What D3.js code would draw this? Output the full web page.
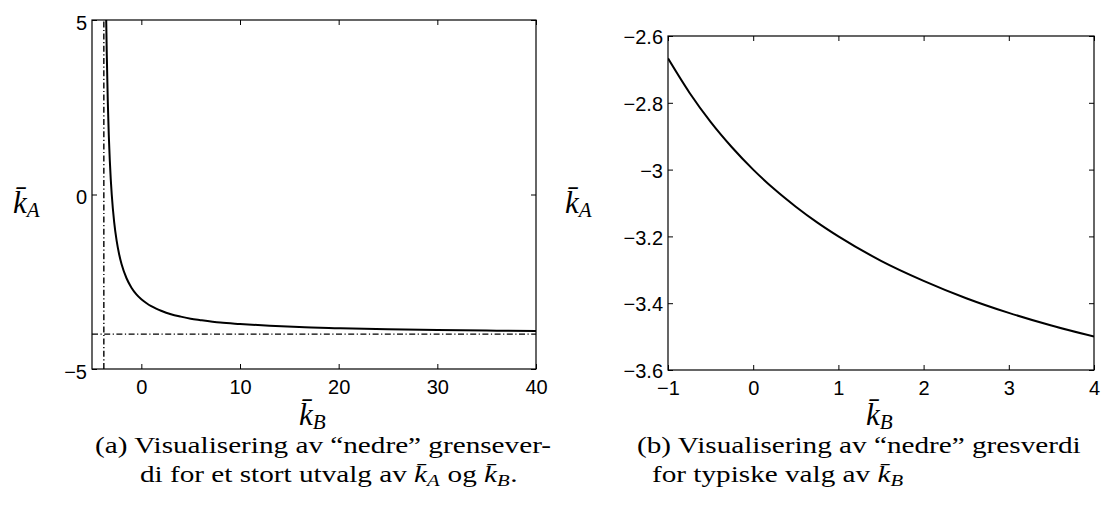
<!DOCTYPE html>
<html>
<head>
<meta charset="utf-8">
<script src="https://cdn.jsdelivr.net/npm/d3@7"></script>
<style>
  body { margin: 0; background: #fff; }
  svg { display: block; }
  .cap, .lbl { font-family: 'Liberation Serif', 'Times New Roman', serif; }
  .tk { font-family: 'Liberation Sans', Arial, Helvetica, sans-serif; }
</style>
</head>
<body>
<div id="chart"></div>
<script>
// panel (a): lower bound curve, wide range
const kbWide = [-3.56, -3.5, -3.4, -3.3, -3.2, -3.1, -3.0, -2.75, -2.5, -2.25, -2.0, -1.5, -1.0, -0.5, 0, 0.5, 1, 1.5, 2, 3, 4, 5, 6, 8, 10, 13, 16, 20, 25, 30, 35, 40];
const kaWide = [5.0, 4.0, 2.67, 1.71, 1.0, 0.44, 0.0, -0.8, -1.33, -1.71, -2.0, -2.4, -2.67, -2.86, -3.0, -3.11, -3.2, -3.27, -3.33, -3.43, -3.5, -3.56, -3.6, -3.67, -3.71, -3.76, -3.8, -3.83, -3.86, -3.88, -3.9, -3.91];
// dash-dot guide lines in panel (a)
const guideB = -3.8;
const guideA = -4;

// panel (b): typical kB values
const kbNarrow = [-1, -0.75, -0.5, -0.25, 0, 0.25, 0.5, 0.75, 1, 1.5, 2, 2.5, 3, 3.5, 4];
const kaNarrow = [-2.667, -2.769, -2.857, -2.933, -3.0, -3.059, -3.111, -3.158, -3.2, -3.273, -3.333, -3.385, -3.429, -3.467, -3.5];

const aXTicks = [0, 10, 20, 30, 40];
const aYTicks = [5, 0, -5];
const bXTicks = [-1, 0, 1, 2, 3, 4];
const bYTicks = [-2.6, -2.8, -3, -3.2, -3.4, -3.6];
const bYLabels = ['-2.6', '-2.8', '-3', '-3.2', '-3.4', '-3.6'];

const W = 1107, H = 510;
const svg = d3.select('#chart').append('svg').attr('width', W).attr('height', H);

const minus = s => String(s).replace('-', '\u2212');

// k with a bar and a subscript, drawn as real text
function kLabel(g, x, y, sub, size) {
  const t = g.append('text').attr('class', 'lbl').attr('x', x).attr('y', y)
    .attr('font-size', size).attr('font-style', 'italic');
  t.append('tspan').text('k\u0304');
  t.append('tspan').attr('font-size', size * 0.68).attr('dy', size * 0.12).text(sub);
  return t;
}

function panel(opt) {
  const { x0, x1, y0, y1 } = opt;
  const x = d3.scaleLinear().domain(opt.xDomain).range([x0, x1]);
  const y = d3.scaleLinear().domain(opt.yDomain).range([y1, y0]);
  const g = svg.append('g');
  const id = 'clip' + opt.name;
  g.append('clipPath').attr('id', id).append('rect')
    .attr('x', x0).attr('y', y0).attr('width', x1 - x0).attr('height', y1 - y0);

  const tl = 5;
  const xb = g.append('g').attr('transform', `translate(0,${y1})`)
    .call(d3.axisBottom(x).tickValues(opt.xTicks).tickSize(-tl).tickPadding(11).tickFormat(d => minus(d)));
  const xt = g.append('g').attr('transform', `translate(0,${y0})`)
    .call(d3.axisTop(x).tickValues(opt.xTicks).tickSize(-tl));
  const yl = g.append('g').attr('transform', `translate(${x0},0)`)
    .call(d3.axisLeft(y).tickValues(opt.yTicks).tickSize(-tl).tickPadding(5).tickFormat(opt.yFmt));
  const yr = g.append('g').attr('transform', `translate(${x1},0)`)
    .call(d3.axisRight(y).tickValues(opt.yTicks).tickSize(-tl));
  // mirrored ticks only, no labels
  xt.selectAll('.tick text').remove();
  yr.selectAll('.tick text').remove();
  g.selectAll('.domain').remove();
  g.selectAll('.tick line').attr('stroke', '#000').attr('stroke-width', 1);
  g.selectAll('.tick text').attr('class', 'tk').attr('font-size', 20).attr('fill', '#000');
  [xb, xt, yl, yr].forEach(a => a.attr('font-family', null).attr('font-size', null));
  xb.selectAll('text').attr('dy', '0.72em');
  yl.selectAll('text').attr('dy', opt.yDy);

  const plot = g.append('g').attr('clip-path', `url(#${id})`);
  if (opt.guides) {
    plot.append('line')
      .attr('x1', x(guideB)).attr('x2', x(guideB)).attr('y1', y(opt.yDomain[0])).attr('y2', y(opt.yDomain[1]))
      .attr('stroke', '#000').attr('stroke-width', 1.4).attr('stroke-dasharray', '6,2.5,1.2,2.5');
    plot.append('line')
      .attr('x1', x(opt.xDomain[0])).attr('x2', x(opt.xDomain[1])).attr('y1', y(guideA)).attr('y2', y(guideA))
      .attr('stroke', '#000').attr('stroke-width', 1.4).attr('stroke-dasharray', '6,2.5,1.2,2.5');
  }
  const pts = opt.xs.map((v, i) => [v, opt.ys[i]]);
  plot.append('path').datum(pts)
    .attr('d', d3.line().x(d => x(d[0])).y(d => y(d[1])).curve(d3.curveMonotoneX))
    .attr('fill', 'none').attr('stroke', '#000').attr('stroke-width', 2);

  g.append('rect').attr('x', x0).attr('y', y0).attr('width', x1 - x0).attr('height', y1 - y0)
    .attr('fill', 'none').attr('stroke', '#000').attr('stroke-width', 1.2);

  kLabel(g, opt.yLabX, 213, 'A', 31);
  kLabel(g, (x0 + x1) / 2 - 15, 425, 'B', 31);
}

panel({
  name: 'a', x0: 92, x1: 536, y0: 20, y1: 369,
  xDomain: [-5, 40], yDomain: [-5, 5], xTicks: aXTicks, yTicks: aYTicks,
  yFmt: d => minus(d), yDy: '0.45em',
  xs: kbWide, ys: kaWide, guides: true, yLabX: 13
});
panel({
  name: 'b', x0: 668, x1: 1094, y0: 36, y1: 370,
  xDomain: [-1, 4], yDomain: [-3.6, -2.6], xTicks: bXTicks, yTicks: bYTicks,
  yFmt: (d, i) => minus(bYLabels[i]), yDy: '0.38em',
  xs: kbNarrow, ys: kaNarrow, guides: false, yLabX: 565
});

// captions, stretched to the reference line width
const CAPSIZE = 24;
function capLine(x, y, parts) {
  const t = svg.append('text').attr('class', 'cap').attr('x', x).attr('y', y)
    .attr('font-size', CAPSIZE).attr('fill', '#000');
  parts.forEach(p => {
    if (typeof p === 'string') t.append('tspan').text(p);
    else {
      t.append('tspan').attr('font-style', 'italic').text('k\u0304');
      t.append('tspan').attr('font-style', 'italic').attr('font-size', 17).attr('dy', 4).text(p.sub);
      t.append('tspan').attr('dy', -4).text('\u00a0').attr('font-size', 2);
    }
  });
  return t;
}
const lines = [
  capLine(95, 453, ['(a) Visualisering av \u201cnedre\u201d grensever-']),
  capLine(140, 482, ['di for et stort utvalg av ', { sub: 'A' }, ' og ', { sub: 'B' }, '.']),
  capLine(637, 453, ['(b) Visualisering av \u201cnedre\u201d gresverdi']),
  capLine(652, 482, ['for typiske valg av ', { sub: 'B' }])
];
// stretch factor from the first line, which spans about 456 px in the reference
const f = 456 / lines[0].node().getComputedTextLength();
lines.forEach(t => {
  const w = t.node().getComputedTextLength();
  t.attr('textLength', w * f).attr('lengthAdjust', 'spacingAndGlyphs');
});
</script>
</body>
</html>
